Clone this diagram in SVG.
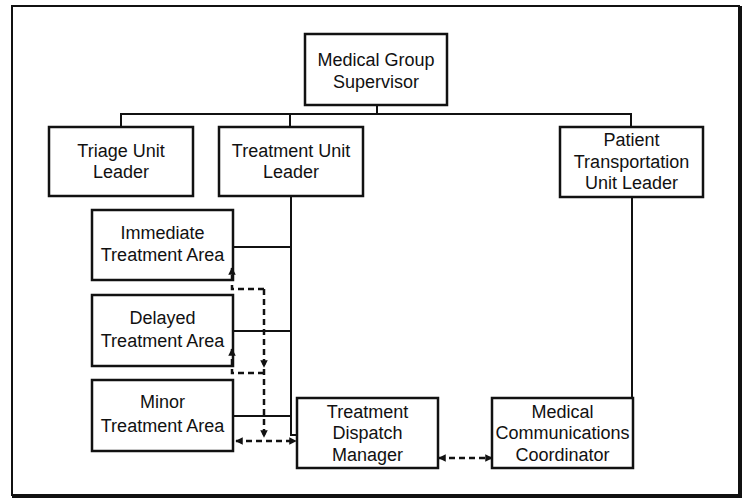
<svg xmlns="http://www.w3.org/2000/svg" width="746" height="499" viewBox="0 0 746 499">
<defs>
<style>
.box{fill:#fff;stroke:#111;stroke-width:2.5}
.t{font-family:"Liberation Sans",Arial,sans-serif;font-size:18px;fill:#111;text-anchor:middle}
.ln{fill:none;stroke:#111;stroke-width:2}
.ds{fill:none;stroke:#111;stroke-width:2.5;stroke-dasharray:6 4}
</style>
<marker id="ah" viewBox="0 0 10 10" refX="9" refY="5" markerWidth="3" markerHeight="3" orient="auto-start-reverse" markerUnits="strokeWidth">
<path d="M0,0 L10,5 L0,10 z" fill="#111"/>
</marker>
</defs>
<rect width="746" height="499" fill="#fff"/>
<g id="frame">
<rect x="12" y="6" width="727" height="489" fill="none" stroke="#111" stroke-width="2"/>
<line x1="740" y1="6" x2="740" y2="497" stroke="#111" stroke-width="4"/>
<line x1="12" y1="496" x2="742" y2="496" stroke="#111" stroke-width="4"/>
</g>
<g id="supervisor">
<rect class="box" x="305" y="34" width="142" height="71"/>
<text class="t" x="376" y="66">Medical Group</text>
<text class="t" x="376" y="88">Supervisor</text>
</g>
<g id="triage">
<rect class="box" x="49" y="127" width="144" height="69"/>
<text class="t" x="121" y="157">Triage Unit</text>
<text class="t" x="121" y="178">Leader</text>
</g>
<g id="treatment-leader">
<rect class="box" x="219" y="127" width="144" height="69"/>
<text class="t" x="291" y="157">Treatment Unit</text>
<text class="t" x="291" y="178">Leader</text>
</g>
<g id="patient-transport">
<rect class="box" x="560" y="127" width="143" height="70"/>
<text class="t" x="631.5" y="146">Patient</text>
<text class="t" x="631.5" y="168">Transportation</text>
<text class="t" x="631.5" y="189">Unit Leader</text>
</g>
<g id="immediate">
<rect class="box" x="92" y="210" width="141" height="70"/>
<text class="t" x="162.5" y="239">Immediate</text>
<text class="t" x="162.5" y="261">Treatment Area</text>
</g>
<g id="delayed">
<rect class="box" x="92" y="295" width="141" height="71"/>
<text class="t" x="162.5" y="324">Delayed</text>
<text class="t" x="162.5" y="347">Treatment Area</text>
</g>
<g id="minor">
<rect class="box" x="92" y="380" width="141" height="71"/>
<text class="t" x="162.5" y="408">Minor</text>
<text class="t" x="162.5" y="432">Treatment Area</text>
</g>
<g id="dispatch">
<rect class="box" x="297" y="398" width="141" height="70"/>
<text class="t" x="367.5" y="418">Treatment</text>
<text class="t" x="367.5" y="439">Dispatch</text>
<text class="t" x="367.5" y="461">Manager</text>
</g>
<g id="communications">
<rect class="box" x="492" y="398" width="141" height="70"/>
<text class="t" x="562.5" y="418">Medical</text>
<text class="t" x="562.5" y="439">Communications</text>
<text class="t" x="562.5" y="461">Coordinator</text>
</g>
<g id="connectors">
<path class="ln" d="M377,105 V114"/>
<path class="ln" d="M121,127 V114 H631 V127"/>
<path class="ln" d="M290,114 V127"/>
<path class="ln" d="M291,196 V435 H297"/>
<path class="ln" d="M233,247 H291"/>
<path class="ln" d="M233,331 H291"/>
<path class="ln" d="M233,416 H291"/>
<path class="ln" d="M632,197 V398"/>
<path class="ds" d="M264,289 H232 V268" marker-end="url(#ah)"/>
<path class="ds" d="M264,373 H232 V349" marker-end="url(#ah)"/>
<path class="ds" d="M264,289 V367 V437" marker-mid="url(#ah)" marker-end="url(#ah)"/>
<path class="ds" d="M236,441 H296" marker-start="url(#ah)" marker-end="url(#ah)"/>
<path class="ds" d="M439,458 H492" marker-start="url(#ah)" marker-end="url(#ah)"/>
</g>
</svg>
